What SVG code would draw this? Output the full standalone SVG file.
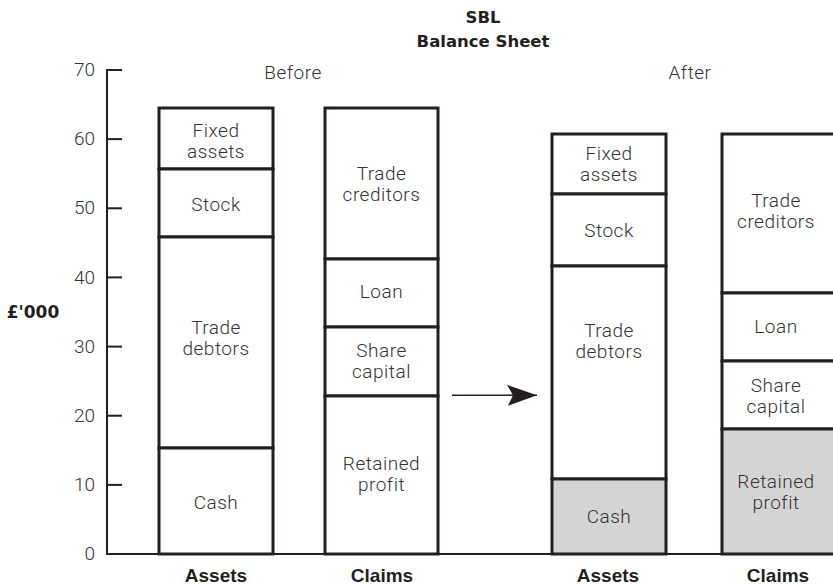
<svg xmlns="http://www.w3.org/2000/svg" width="833" height="586" viewBox="0 0 833 586">
<style>
.seg{fill:#fff;stroke:#231f20;stroke-width:3}
.shaded{fill:#d4d4d5}
.axis{stroke:#231f20;stroke-width:2;fill:none}
.t{font-family:Roboto,"Liberation Sans",sans-serif;font-weight:300;font-size:19px;letter-spacing:0.5px;fill:#333;text-anchor:middle}
.tick{font-family:Roboto,"Liberation Sans",sans-serif;font-weight:300;font-size:19px;fill:#333;text-anchor:end}
.b{font-family:"Liberation Sans",Arial,sans-serif;font-weight:bold;font-size:19px;fill:#231f20;text-anchor:middle}
.title{font-family:"DejaVu Sans",sans-serif;font-weight:bold;font-size:16.5px;fill:#231f20;text-anchor:middle}
</style>
<defs>
<marker id="ah" viewBox="0 0 30 22" refX="30" refY="11" markerWidth="30" markerHeight="22" markerUnits="userSpaceOnUse" orient="auto">
<path d="M30,11 L0,0.5 L6,11 L1,21.5 Z" fill="#231f20"/>
</marker>
</defs>

<g id="title">
<text class="title" x="483" y="23">SBL</text>
<text class="title" x="483" y="47">Balance Sheet</text>
</g>

<g id="axis">
<line class="axis" x1="107" y1="69" x2="107" y2="554"/>
<line class="axis" x1="106" y1="554" x2="833" y2="554"/>
<line class="axis" x1="107" y1="70" x2="122" y2="70"/>
<line class="axis" x1="107" y1="139.1" x2="122" y2="139.1"/>
<line class="axis" x1="107" y1="208.3" x2="122" y2="208.3"/>
<line class="axis" x1="107" y1="277.4" x2="122" y2="277.4"/>
<line class="axis" x1="107" y1="346.6" x2="122" y2="346.6"/>
<line class="axis" x1="107" y1="415.7" x2="122" y2="415.7"/>
<line class="axis" x1="107" y1="484.9" x2="122" y2="484.9"/>
<text class="tick" x="95" y="76">70</text>
<text class="tick" x="95" y="145">60</text>
<text class="tick" x="95" y="214">50</text>
<text class="tick" x="95" y="284">40</text>
<text class="tick" x="95" y="353">30</text>
<text class="tick" x="95" y="422">20</text>
<text class="tick" x="95" y="491">10</text>
<text class="tick" x="95" y="560">0</text>
<text class="title" x="33" y="318" style="font-size:17px">£'000</text>
</g>

<g id="before-label"><text class="t" x="293" y="79">Before</text></g>
<g id="after-label"><text class="t" x="690" y="79">After</text></g>

<g id="before-assets">
<rect class="seg" x="159" y="108" width="114" height="61"/>
<rect class="seg" x="159" y="169" width="114" height="68"/>
<rect class="seg" x="159" y="237" width="114" height="211"/>
<rect class="seg" x="159" y="448" width="114" height="106"/>
<text class="t" x="216" y="137">Fixed</text>
<text class="t" x="216" y="158">assets</text>
<text class="t" x="216" y="211">Stock</text>
<text class="t" x="216" y="334">Trade</text>
<text class="t" x="216" y="355">debtors</text>
<text class="t" x="216" y="509">Cash</text>
<text class="b" x="216" y="582">Assets</text>
</g>

<g id="before-claims">
<rect class="seg" x="325" y="108" width="113" height="151"/>
<rect class="seg" x="325" y="259" width="113" height="68"/>
<rect class="seg" x="325" y="327" width="113" height="69"/>
<rect class="seg" x="325" y="396" width="113" height="158"/>
<text class="t" x="381.5" y="179.5">Trade</text>
<text class="t" x="381.5" y="200.5">creditors</text>
<text class="t" x="381.5" y="298">Loan</text>
<text class="t" x="381.5" y="356.5">Share</text>
<text class="t" x="381.5" y="377.5">capital</text>
<text class="t" x="381.5" y="469.5">Retained</text>
<text class="t" x="381.5" y="490.5">profit</text>
<text class="b" x="382" y="582">Claims</text>
</g>

<g id="after-assets">
<rect class="seg" x="552" y="134" width="114" height="60"/>
<rect class="seg" x="552" y="194" width="114" height="72"/>
<rect class="seg" x="552" y="266" width="114" height="213"/>
<rect class="seg shaded" x="552" y="479" width="114" height="75"/>
<text class="t" x="609" y="159.5">Fixed</text>
<text class="t" x="609" y="180.5">assets</text>
<text class="t" x="609" y="237">Stock</text>
<text class="t" x="609" y="337">Trade</text>
<text class="t" x="609" y="358">debtors</text>
<text class="t" x="609" y="523">Cash</text>
<text class="b" x="608" y="582">Assets</text>
</g>

<g id="after-claims">
<rect class="seg" x="722" y="134" width="113" height="159"/>
<rect class="seg" x="722" y="293" width="113" height="68"/>
<rect class="seg" x="722" y="361" width="113" height="68"/>
<rect class="seg shaded" x="722" y="429" width="113" height="125"/>
<text class="t" x="776" y="206.5">Trade</text>
<text class="t" x="776" y="227.5">creditors</text>
<text class="t" x="776" y="333">Loan</text>
<text class="t" x="776" y="392">Share</text>
<text class="t" x="776" y="413">capital</text>
<text class="t" x="776" y="488">Retained</text>
<text class="t" x="776" y="509">profit</text>
<text class="b" x="778" y="582">Claims</text>
</g>

<g id="connectors">
<line x1="452" y1="395.3" x2="537" y2="395.3" stroke="#231f20" stroke-width="1.6" marker-end="url(#ah)"/>
</g>
</svg>
